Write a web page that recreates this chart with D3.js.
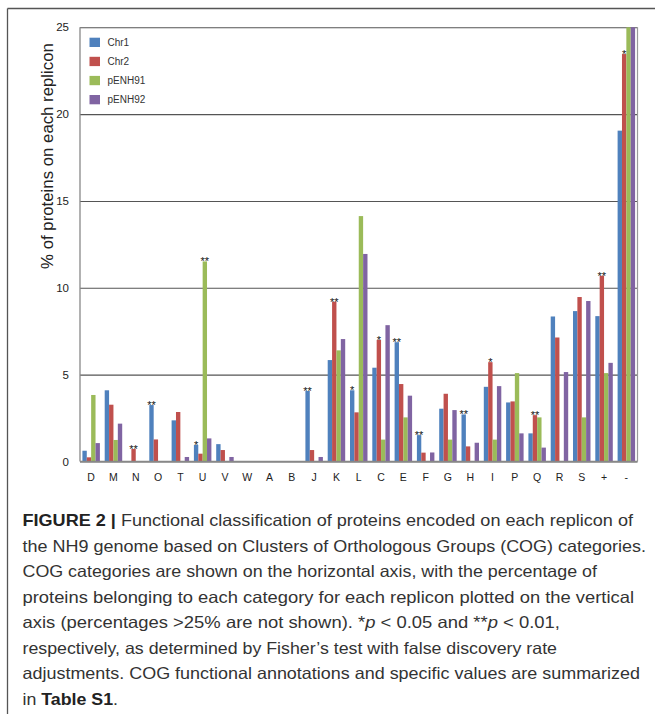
<!DOCTYPE html>
<html><head><meta charset="utf-8">
<script src="https://cdn.jsdelivr.net/npm/d3@7"></script>
<style>body{margin:0;background:#fff}svg{display:block}</style>
</head><body><svg id="c" width="655" height="714"></svg>
<script>
const categories = ["D","M","N","O","T","U","V","W","A","B","J","K","L","C","E","F","G","H","I","P","Q","R","S","+","-"];
const seriesNames = ["Chr1","Chr2","pENH91","pENH92"];
const seriesColors = ["#4F81BD","#C0504D","#9BBB59","#8064A2"];
const chr1   = [0.62,4.10,0,3.25,2.37,0.95,1.00,0,0,0,4.06,5.84,4.10,5.40,6.87,1.52,3.04,2.71,4.30,3.40,1.62,8.35,8.66,8.37,19.05];
const chr2   = [0.24,3.27,0.72,1.27,2.85,0.45,0.66,0,0,0,0.66,9.20,2.83,7.00,4.46,0.51,3.90,0.87,5.72,3.46,2.67,7.14,9.47,10.69,23.46];
const pENH91 = [3.83,1.24,0,0,0,11.52,0,0,0,0,0,6.40,14.13,1.26,2.54,0,1.26,0,1.26,5.09,2.54,0,2.54,5.09,25];
const pENH92 = [1.06,2.18,0,0,0.26,1.33,0.26,0,0,0,0.26,7.05,11.95,7.85,3.79,0.52,2.96,1.08,4.34,1.62,0.80,5.15,9.24,5.68,25];
const yTicks = [0,5,10,15,20,25];
// significance markers: [category, series, label]
const sigCats   = ["N","O","U","U","J","K","L","C","E","F","H","I","Q","+","-"];
const sigSeries = ["Chr2","Chr1","Chr1","pENH91","Chr1","Chr2","Chr1","Chr2","Chr1","Chr1","Chr1","Chr2","Chr2","Chr2","Chr2"];
const sigLabels = ["**","**","*","**","**","**","*","*","**","**","**","*","**","**","*"];
const yTitle = "% of proteins on each replicon";
const captionLines = [
  [["FIGURE 2 | ","b"],["Functional classification of proteins encoded on each replicon of",""]],
  [["the NH9 genome based on Clusters of Orthologous Groups (COG) categories.",""]],
  [["COG categories are shown on the horizontal axis, with the percentage of",""]],
  [["proteins belonging to each category for each replicon plotted on the vertical",""]],
  [["axis (percentages >25% are not shown). *",""],["p","i"],[" < 0.05 and **",""],["p","i"],[" < 0.01,",""]],
  [["respectively, as determined by Fisher\u2019s test with false discovery rate",""]],
  [["adjustments. COG functional annotations and specific values are summarized",""]],
  [["in ",""],["Table S1","b"],[".",""]]
];
const captionEnds = [633,646,597,634,560,557,640,118];

(function(){
const values = [chr1, chr2, pENH91, pENH92];
const data = categories.map((c,i)=>({cat:c, vals: seriesNames.map((s,j)=>({s, v: values[j][i], color: seriesColors[j]}))}));

const svg = d3.select("#c");
svg.append("rect").attr("width",655).attr("height",714).attr("fill","#fff");
svg.append("line").attr("x1",7.5).attr("x2",655).attr("y1",8.5).attr("y2",8.5).attr("stroke","#555").attr("stroke-width",1.3);
svg.append("line").attr("x1",7.5).attr("x2",7.5).attr("y1",8.5).attr("y2",714).attr("stroke","#555").attr("stroke-width",1.3);

const pL=80, pR=637.5, pT=27.3, pB=461.5;
const x0 = d3.scaleBand().domain(categories).range([pL,pR]).padding(0);
const x1 = d3.scaleBand().domain(seriesNames).range([0,x0.bandwidth()]).paddingInner(0).paddingOuter(0.55);
const y = d3.scaleLinear().domain([0,25]).range([pB,pT]);
const font = "'Liberation Sans', Arial, Helvetica, sans-serif";

const ya = svg.append("g").attr("transform",`translate(${pL},0)`)
  .call(d3.axisLeft(y).tickValues(yTicks).tickSize(-(pR-pL)).tickPadding(11).tickFormat(d3.format("d")));
ya.select(".domain").remove();
ya.selectAll(".tick line").attr("stroke","#555").attr("stroke-width",1.1);
ya.selectAll(".tick text").attr("font-family",font).attr("font-size",11.5).attr("fill","#222");

const g = svg.append("g");
const groups = g.selectAll("g").data(data).join("g").attr("transform",d=>`translate(${x0(d.cat)},0)`);
groups.selectAll("rect").data(d=>d.vals).join("rect")
  .attr("x",d=>x1(d.s)).attr("width",x1.bandwidth())
  .attr("y",d=>y(Math.min(d.v,25))).attr("height",d=>pB-y(Math.min(d.v,25)))
  .attr("fill",d=>d.color);

svg.append("line").attr("x1",pL).attr("x2",pL).attr("y1",pT).attr("y2",pB).attr("stroke","#888").attr("stroke-width",1.3);
svg.append("line").attr("x1",pR).attr("x2",pR).attr("y1",pT).attr("y2",pB).attr("stroke","#999").attr("stroke-width",1.2);
svg.append("line").attr("x1",pL).attr("x2",pR).attr("y1",pB).attr("y2",pB).attr("stroke","#888").attr("stroke-width",1.3);

const xa = svg.append("g").attr("transform",`translate(0,${pB})`)
  .call(d3.axisBottom(x0).tickSize(0).tickPadding(12));
xa.select(".domain").remove();
xa.selectAll(".tick text").attr("font-family",font).attr("font-size",10.5).attr("fill","#222");

svg.append("g").selectAll("text").data(sigCats.map((c,i)=>({c, s:sigSeries[i], l:sigLabels[i]}))).join("text")
  .attr("x",d=>x0(d.c)+x1(d.s)+x1.bandwidth()/2)
  .attr("y",d=>y(values[seriesNames.indexOf(d.s)][categories.indexOf(d.c)])+4)
  .attr("text-anchor","middle").attr("font-family",font).attr("font-size",11).attr("fill","#111")
  .text(d=>d.l);

const lg = svg.append("g").selectAll("g").data(seriesNames).join("g")
  .attr("transform",(d,i)=>`translate(89.5,${37.7+i*19.1})`);
lg.append("rect").attr("width",10.5).attr("height",9.3).attr("fill",(d,i)=>seriesColors[i]);
lg.append("text").attr("x",18).attr("y",8.3).attr("font-family",font).attr("font-size",10).attr("fill","#333").text(d=>d);

svg.append("text").attr("transform","translate(53,156) rotate(-90)").attr("text-anchor","middle")
  .attr("font-family",font).attr("font-size",16.8).attr("fill","#222").text(yTitle);

const cap = svg.append("g");
captionLines.forEach((line,i)=>{
  const t = cap.append("text").attr("x",22.5).attr("y",526+i*25.5)
    .attr("font-family",font).attr("font-size",16.5).attr("fill","#333")
    .attr("textLength",captionEnds[i]-22.5).attr("lengthAdjust","spacingAndGlyphs");
  line.forEach(([s,st])=>{
    const ts = t.append("tspan").text(s);
    if(st==="b") ts.attr("font-weight","bold").attr("fill","#222");
    if(st==="i") ts.attr("font-style","italic");
  });
});
})();
</script></body></html>
